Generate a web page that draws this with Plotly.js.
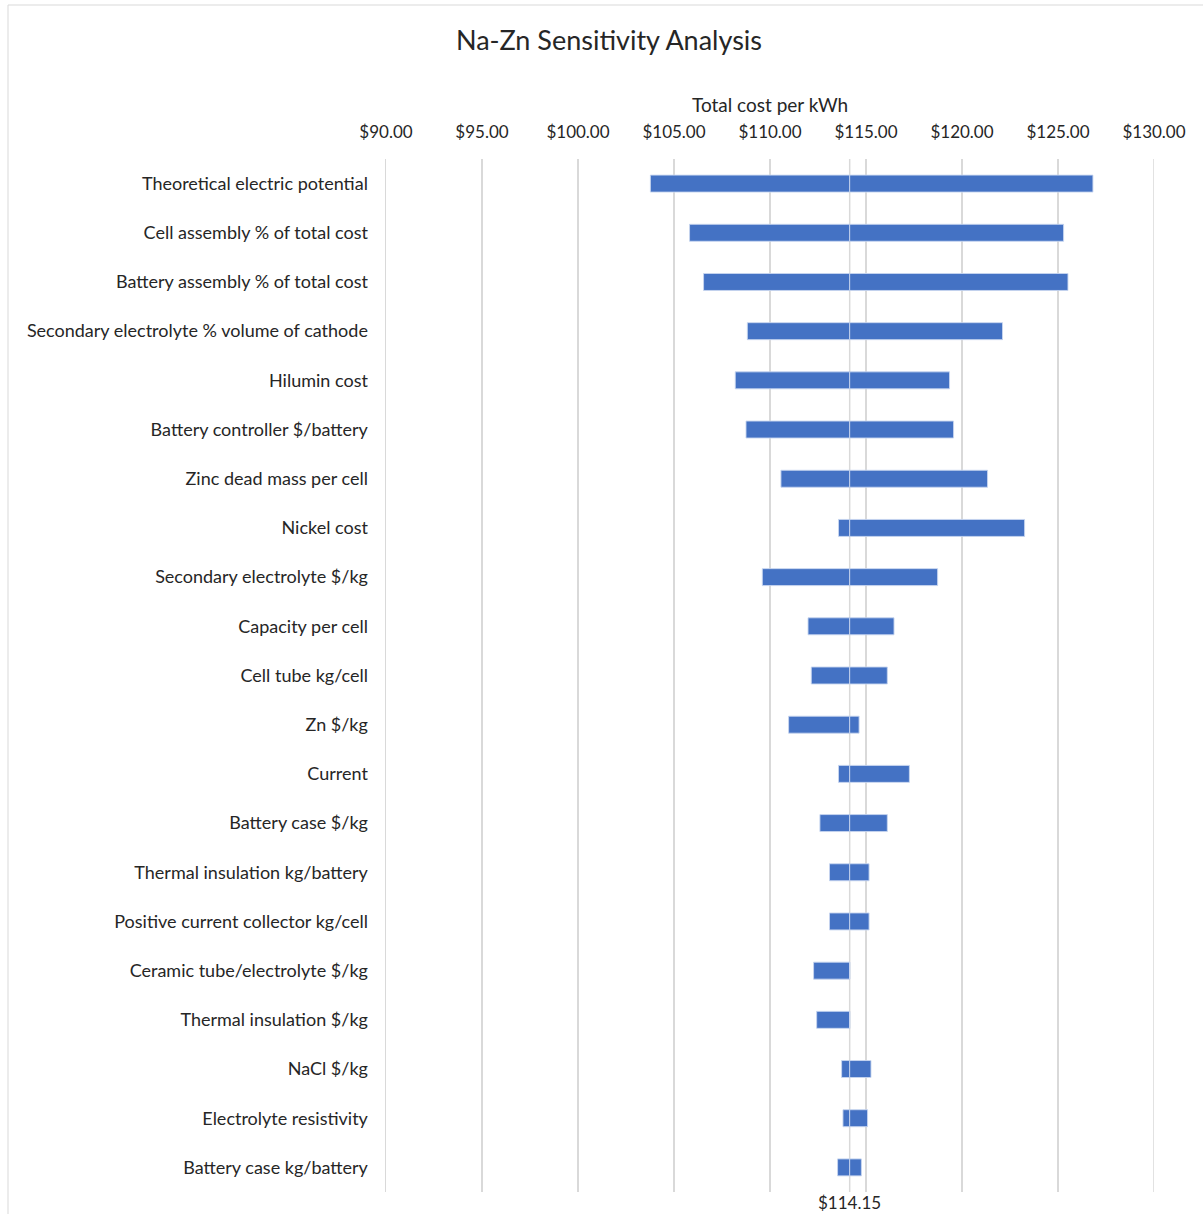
<!DOCTYPE html>
<html>
<head>
<meta charset="utf-8">
<script src="https://cdn.plot.ly/plotly-3.0.1.min.js"></script>
<style>
  html, body { margin: 0; padding: 0; background: #ffffff; }
  #chart { width: 1203px; height: 1214px; }
</style>
</head>
<body>
<div id="chart"></div>
<script>
const categories = [
  "Theoretical electric potential",
  "Cell assembly % of total cost",
  "Battery assembly % of total cost",
  "Secondary electrolyte % volume of cathode",
  "Hilumin cost",
  "Battery controller $/battery",
  "Zinc dead mass per cell",
  "Nickel cost",
  "Secondary electrolyte $/kg",
  "Capacity per cell",
  "Cell tube kg/cell",
  "Zn $/kg",
  "Current",
  "Battery case $/kg",
  "Thermal insulation kg/battery",
  "Positive current collector kg/cell",
  "Ceramic tube/electrolyte $/kg",
  "Thermal insulation $/kg",
  "NaCl $/kg",
  "Electrolyte resistivity",
  "Battery case kg/battery"
];
const lowValues = [
  103.77, 105.81, 106.54, 108.82, 108.19, 108.75, 110.57, 113.57, 109.60, 111.98, 112.15,
  110.97, 113.57, 112.60, 113.10, 113.10, 112.27, 112.43, 113.73, 113.80, 113.52
];
const highValues = [
  126.82, 125.29, 125.52, 122.11, 119.35, 119.56, 121.33, 123.26, 118.73, 116.46, 116.11,
  114.64, 117.26, 116.11, 115.16, 115.16, 114.15, 114.15, 115.26, 115.08, 114.76
];
const baseValue = 114.15;
const xMin = 90;
const xMax = 130;
const xTickValues = [90, 95, 100, 105, 110, 115, 120, 125, 130];
const xTickLabels = ["$90.00", "$95.00", "$100.00", "$105.00", "$110.00", "$115.00", "$120.00", "$125.00", "$130.00"];

const barColor = "#4472C4";
const barLine = { color: "rgba(200,214,240,0.9)", width: 1 };
const fontFam = "Lato, 'Open Sans', sans-serif";

const lowTrace = {
  type: "bar",
  orientation: "h",
  y: categories,
  base: lowValues,
  x: lowValues.map(v => baseValue - v),
  marker: { color: barColor, line: barLine },
  name: "Low",
  hoverinfo: "skip"
};
const highTrace = {
  type: "bar",
  orientation: "h",
  y: categories,
  base: highValues.map(() => baseValue),
  x: highValues.map(v => v - baseValue),
  marker: { color: barColor, line: barLine },
  name: "High",
  hoverinfo: "skip"
};

const gridShape = (xv) => ({
  type: "line", xref: "x", yref: "paper",
  x0: xv, x1: xv, y0: 0, y1: 1,
  line: { color: "#d9d9d9", width: 1.5 },
  layer: "below"
});

const layout = {
  width: 1203,
  height: 1214,
  paper_bgcolor: "#ffffff",
  plot_bgcolor: "#ffffff",
  showlegend: false,
  barmode: "overlay",
  bargap: 0.655,
  margin: { l: 386, r: 49, t: 159, b: 22, pad: 0 },
  font: { family: fontFam, size: 16, color: "#262626" },
  title: {
    text: "Na-Zn Sensitivity Analysis",
    font: { family: fontFam, size: 27, color: "#262626" },
    x: 609 / 1203,
    xanchor: "center",
    y: 1 - 41 / 1214,
    yanchor: "middle"
  },
  xaxis: {
    side: "top",
    range: [xMin, xMax],
    tickmode: "array",
    tickvals: xTickValues,
    ticktext: xTickLabels,
    showgrid: true,
    gridcolor: "#d9d9d9",
    gridwidth: 1.5,
    zeroline: false,
    showline: false,
    ticks: "",
    ticklabelstandoff: 17,
    tickfont: { family: fontFam, size: 17, color: "#262626" }
  },
  yaxis: {
    type: "category",
    autorange: "reversed",
    showgrid: false,
    zeroline: false,
    showline: true,
    linecolor: "#d9d9d9",
    linewidth: 1.5,
    ticks: "",
    ticklabelstandoff: 13,
    tickfont: { family: fontFam, size: 18, color: "#262626" }
  },
  shapes: [
    gridShape(baseValue),
    gridShape(xMax),
    {
      type: "rect", xref: "paper", yref: "paper",
      x0: (8 - 386) / 768, x1: (1215 - 386) / 768,
      y0: (1192 - 1230) / 1033, y1: (1192 - 5) / 1033,
      line: { color: "#d9d9d9", width: 1 },
      fillcolor: "rgba(0,0,0,0)",
      layer: "below"
    }
  ],
  annotations: [
    {
      text: "Total cost per kWh",
      xref: "paper", yref: "paper",
      x: 0.5, y: (1192 - 104) / 1033,
      xanchor: "center", yanchor: "middle",
      showarrow: false,
      font: { family: fontFam, size: 19, color: "#262626" }
    },
    {
      text: "$114.15",
      xref: "x", yref: "paper",
      x: baseValue, y: (1192 - 1202) / 1033,
      xanchor: "center", yanchor: "middle",
      showarrow: false,
      font: { family: fontFam, size: 17, color: "#262626" }
    }
  ]
};

Plotly.newPlot("chart", [lowTrace, highTrace], layout, { displayModeBar: false, staticPlot: true });
</script>
</body>
</html>
